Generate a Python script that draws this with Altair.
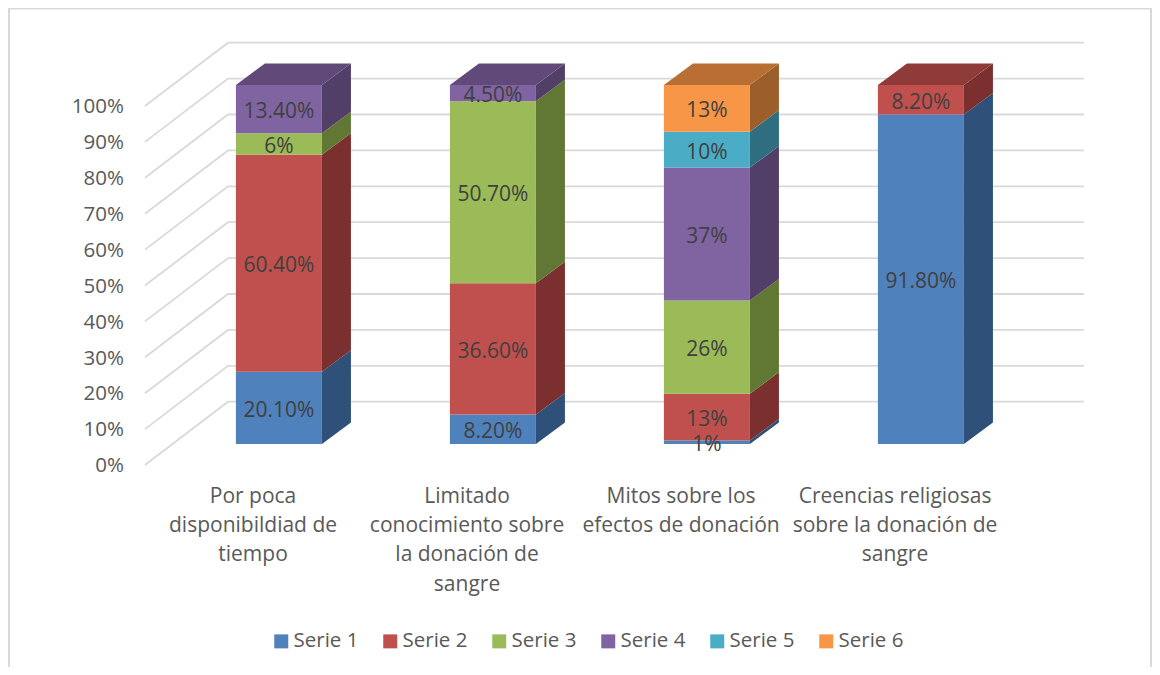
import altair as alt
import pandas as pd

categories = [
    "Por poca\ndisponibildiad de\ntiempo",
    "Limitado\nconocimiento sobre\nla donación de\nsangre",
    "Mitos sobre los\nefectos de donación",
    "Creencias religiosas\nsobre la donación de\nsangre",
]
series = ["Serie 1", "Serie 2", "Serie 3", "Serie 4", "Serie 5", "Serie 6"]
serie_1 = [20.1, 8.2, 1, 91.8]
serie_2 = [60.4, 36.6, 13, 8.2]
serie_3 = [6, 50.7, 26, 0]
serie_4 = [13.4, 4.5, 37, 0]
serie_5 = [0, 0, 10, 0]
serie_6 = [0, 0, 13, 0]
labels = {
    "Serie 1": ["20.10%", "8.20%", "1%", "91.80%"],
    "Serie 2": ["60.40%", "36.60%", "13%", "8.20%"],
    "Serie 3": ["6%", "50.70%", "26%", ""],
    "Serie 4": ["13.40%", "4.50%", "37%", ""],
    "Serie 5": ["", "", "10%", ""],
    "Serie 6": ["", "", "13%", ""],
}
ticks = list(range(0, 101, 10))

front_colors = ["#4F81BD", "#C0504D", "#9BBB59", "#8064A2", "#4BACC6", "#F79646"]
side_colors = ["#2F5079", "#7B2F2E", "#617734", "#523F68", "#2E6E80", "#9C5F2B"]
top_colors = ["#3A608F", "#8F3B39", "#748D43", "#614A7A", "#38829A", "#B96F33"]
GRID = "#D9D9D9"

# geometry in scale units (one category per x unit, one percent per y unit)
BAR_W = 0.402
BAR_DX, BAR_DY = 0.1355, 5.99
WALL_DX, WALL_DY = 0.388, 17.63
FLOOR_X, FLOOR_Y = -0.126, -5.85

values = [serie_1, serie_2, serie_3, serie_4, serie_5, serie_6]
fronts, sides, tops, texts = [], [], [], []
for c in range(len(categories)):
    total = sum(v[c] for v in values)
    left = c + 0.5 - BAR_W / 2
    right = left + BAR_W
    base = 0.0
    last = None
    for s, name in enumerate(series):
        v = values[s][c]
        if v == 0:
            continue
        y0 = base
        y1 = base + v / total * 100
        base = y1
        last = s
        fronts.append(dict(serie=name, x=left, x2=right, y=y0, y2=y1))
        key = f"{c}-{s}"
        sides.append(dict(key=key, x=right, y=y0, y2=y1, fill=side_colors[s]))
        sides.append(dict(key=key, x=right + BAR_DX, y=y0 + BAR_DY, y2=y1 + BAR_DY, fill=side_colors[s]))
        texts.append(dict(x=(left + right) / 2, y=(y0 + y1) / 2, t=labels[name][c]))
    h = base
    for px, lo, hi in [
        (left, h, h),
        (left + BAR_DX, h, h + BAR_DY),
        (right, h, h + BAR_DY),
        (right + BAR_DX, h + BAR_DY, h + BAR_DY),
    ]:
        tops.append(dict(key=str(c), x=px, y=lo, y2=hi, fill=top_colors[last]))

grid_rows = []
for t in ticks:
    grid_rows += [
        dict(t=t, x=FLOOR_X, y=t + FLOOR_Y),
        dict(t=t, x=FLOOR_X + WALL_DX, y=t + FLOOR_Y + WALL_DY),
        dict(t=t, x=FLOOR_X + WALL_DX + len(categories), y=t + FLOOR_Y + WALL_DY),
    ]
tick_rows = [dict(x=-0.224, y=t + FLOOR_Y + 0.5, t=f"{t}%") for t in ticks]
cat_rows = [dict(x=i + FLOOR_X + 0.505, y=-11.6, t=c) for i, c in enumerate(categories)]

PW, PH = 1144, 659
X = alt.X("x:Q", axis=None, scale=alt.Scale(domain=[-0.766, -0.766 + PW / 214], nice=False, zero=False))
Y = alt.Y("y:Q", axis=None, stack=None, scale=alt.Scale(domain=[121.45 - PH / 3.59, 121.45], nice=False, zero=False))

one = pd.DataFrame({"a": [0]})
frame_left = alt.Chart(one).mark_rule(color=GRID, strokeWidth=2).encode(
    x=alt.value(1), y=alt.value(0), y2=alt.value(PH))
frame_right = alt.Chart(one).mark_rule(color=GRID, strokeWidth=2).encode(
    x=alt.value(PW - 1), y=alt.value(0), y2=alt.value(PH))
frame_top = alt.Chart(one).mark_rule(color=GRID, strokeWidth=2).encode(
    x=alt.value(0), x2=alt.value(PW), y=alt.value(0.5))

grid = alt.Chart(pd.DataFrame(grid_rows)).mark_line(color=GRID, strokeWidth=1.8).encode(
    x=X, y=Y, detail="t:N")
side = alt.Chart(pd.DataFrame(sides)).mark_area(opacity=1).encode(
    x=X, y=Y, y2="y2:Q", detail="key:N", fill=alt.Fill("fill:N", scale=None, legend=None))
top = alt.Chart(pd.DataFrame(tops)).mark_area(opacity=1).encode(
    x=X, y=Y, y2="y2:Q", detail="key:N", fill=alt.Fill("fill:N", scale=None, legend=None))
FONT = "Open Sans"
front = alt.Chart(pd.DataFrame(fronts)).mark_rect().encode(
    x=X, x2="x2:Q", y=Y, y2="y2:Q",
    color=alt.Color("serie:N", scale=alt.Scale(domain=series, range=front_colors),
                    legend=alt.Legend(orient="none", legendX=263, legendY=623, direction="horizontal",
                                      columns=6, title=None, symbolType="square", symbolSize=196,
                                      symbolStrokeWidth=0, labelFont=FONT, labelFontSize=20.5,
                                      labelColor="#595959", columnPadding=21, labelOffset=2)))
value_text = alt.Chart(pd.DataFrame(texts)).mark_text(font=FONT, fontSize=21, color="#404040", dy=3).encode(
    x=X, y=Y, text="t:N")
tick_text = alt.Chart(pd.DataFrame(tick_rows)).mark_text(font=FONT, fontSize=20.5, color="#595959", align="right", dy=3).encode(
    x=X, y=Y, text="t:N")
cat_text = alt.Chart(pd.DataFrame(cat_rows)).mark_text(
    font=FONT, fontSize=21, color="#595959", baseline="top", lineBreak="\n", lineHeight=29.3).encode(
    x=X, y=Y, text="t:N")

chart = alt.layer(frame_left, frame_right, frame_top, grid, side, top, front, value_text, tick_text, cat_text).properties(
    width=PW, height=PH, padding=0, background="white",
    autosize=alt.AutoSizeParams(type="none"),
).configure_view(stroke=None)

chart.save("out.html", embed_options={"renderer": "svg", "actions": False})
